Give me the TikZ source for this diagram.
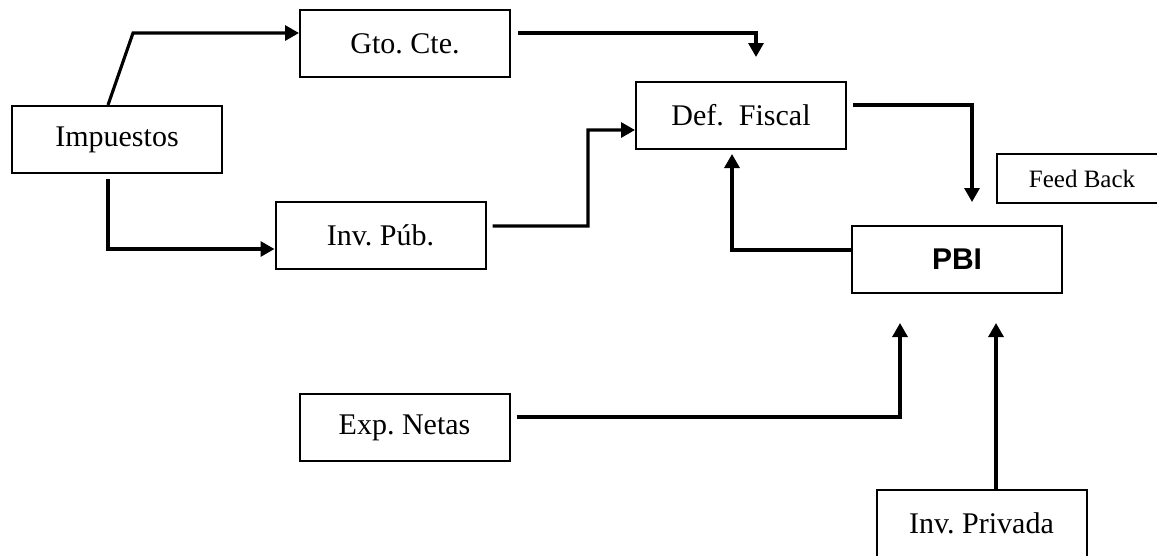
\documentclass[tikz,border=0pt]{standalone}
\usepackage{fontspec}
\setmainfont{Liberation Serif}
\setsansfont{Liberation Sans}
\usetikzlibrary{arrows.meta}
\frenchspacing
\begin{document}
\begin{tikzpicture}[x=0.4pt,y=-0.4pt,
	box/.style={draw,line width=0.8pt,minimum width=84pt,minimum height=26.8pt,inner sep=0pt,font=\fontsize{12}{14}\selectfont},
	conn/.style={line width=1.25pt},
	arr/.style={conn,-{Triangle[length=5.6pt,width=6pt]}}]
	\useasboundingbox (0,0) rectangle (1157,555);
	\clip (0,0) rectangle (1157,555);
	\node [box] (imp) at (117,139.5) {Impuestos};
	\node [box] (gto) at (405,43.5) {Gto. Cte.};
	\node [box] (def) at (741,115.5) {Def.\ \ Fiscal};
	\node [box] (pub) at (380.5,235.5) {Inv. Púb.};
	\node [box] (pbi) at (957,259.5) {\sffamily\bfseries PBI};
	\node [box] (exp) at (404.5,427.5) {Exp. Netas};
	\node [box] (priv) at (981.5,523.5) {Inv. Privada};
	\node [box,minimum width=68pt,minimum height=19.6pt,font=\fontsize{10}{12}\selectfont,anchor=west] (fb) at (996,178.5) {Feed Back};
	\coordinate (k1) at (133,33);
	\coordinate (k2) at (588,226);
	\coordinate (e1) at (756,57);
	\coordinate (e2) at (972,202);
	\coordinate (e3) at (900,323);
	\coordinate (e4) at (996,323);
	\draw [arr] ([xshift=-3.6pt]imp.north) -- (k1) -- ([yshift=4.2pt]gto.west);
	\draw [arr] ([xshift=-3.6pt,yshift=-2pt]imp.south) |- ([yshift=-5.4pt]pub.west);
	\draw [arr] ([xshift=2.8pt,yshift=4.2pt]gto.east) -| (e1);
	\draw [arr] ([xshift=2.4pt,yshift=3.8pt]pub.east) -- (k2) |- ([yshift=-5.8pt]def.west);
	\draw [arr] ([xshift=2.4pt,yshift=4.2pt]def.east) -| (e2);
	\draw [arr] ([yshift=3.8pt]pbi.west) -| ([xshift=-3.6pt,yshift=-1.6pt]def.south);
	\draw [arr] ([xshift=2.4pt,yshift=4.2pt]exp.east) -| (e3);
	\draw [arr] (priv.north -| e4) -- (e4);
\end{tikzpicture}
\end{document}
